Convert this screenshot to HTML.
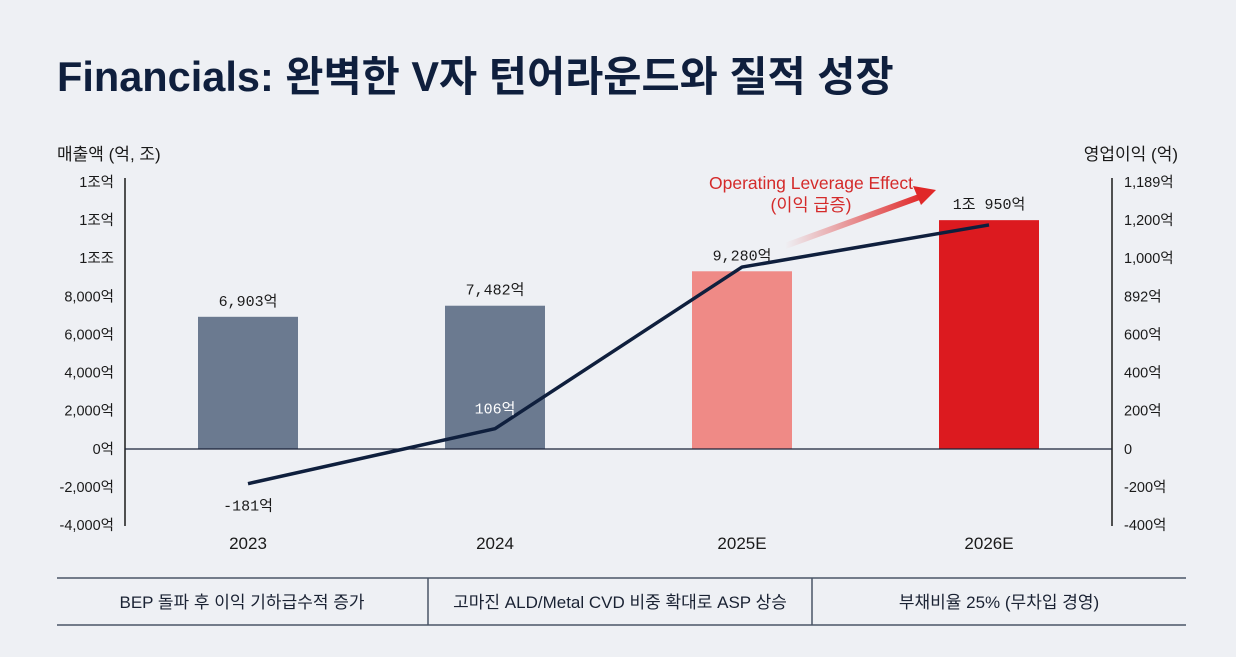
<!DOCTYPE html>
<html><head><meta charset="utf-8">
<style>
html,body{margin:0;padding:0;background:#eef0f4;}
body{width:1236px;height:657px;overflow:hidden;position:relative;font-family:"Liberation Sans","Noto Sans CJK KR",sans-serif;}
svg{position:absolute;left:0;top:0;}
.mono{font-family:"Liberation Mono","Noto Sans CJK KR",monospace;}
</style></head>
<body>
<svg width="1236" height="657">
<defs>
<linearGradient id="ag" x1="0" y1="0" x2="1" y2="0">
<stop offset="0" stop-color="#e03030" stop-opacity="0"/>
<stop offset="1" stop-color="#e02828"/>
</linearGradient>
</defs>
<text x="57" y="91" font-size="41.5" font-weight="bold" fill="#0f1f3d">Financials: 완벽한 V자 턴어라운드와 질적 성장</text>
<text x="57" y="160" font-size="17" fill="#1a1a1a">매출액 (억, 조)</text>
<text x="1178" y="160" font-size="17" fill="#1a1a1a" text-anchor="end">영업이익 (억)</text>
<g id="plot"></g>
<text x="811" y="189" font-size="17.5" fill="#d42a2a" text-anchor="middle">Operating Leverage Effect</text>
<text x="811" y="211" font-size="17.5" fill="#d42a2a" text-anchor="middle">(이익 급증)</text>
<path d="M785,246 L922,196" stroke="url(#ag)" stroke-width="6" fill="none"/>
<polygon points="936,190 913,186 921,205" fill="#e02828"/>
<line x1="57" y1="578" x2="1186" y2="578" stroke="#4a5566" stroke-width="1.5"/>
<line x1="57" y1="625" x2="1186" y2="625" stroke="#4a5566" stroke-width="1.5"/>
<line x1="428" y1="578" x2="428" y2="625" stroke="#4a5566" stroke-width="1.5"/>
<line x1="812" y1="578" x2="812" y2="625" stroke="#4a5566" stroke-width="1.5"/>
<text x="242" y="608" font-size="17" fill="#1a2233" text-anchor="middle">BEP 돌파 후 이익 기하급수적 증가</text>
<text x="620" y="608" font-size="17" fill="#1a2233" text-anchor="middle">고마진 ALD/Metal CVD 비중 확대로 ASP 상승</text>
<text x="999" y="608" font-size="17" fill="#1a2233" text-anchor="middle">부채비율 25% (무차입 경영)</text>
</svg>
<script>
const categories=["2023","2024","2025E","2026E"];
const revenue=[6903,7482,9280,11950];
const revenueLabels=["6,903억","7,482억","9,280억","1조 950억"];
const opProfit=[-181,106,950,1170];
const opLabels=["-181억","106억","",""];
const leftTicks=["1조억","1조억","1조조","8,000억","6,000억","4,000억","2,000억","0억","-2,000억","-4,000억"];
const rightTicks=["1,189억","1,200억","1,000억","892억","600억","400억","200억","0","-200억","-400억"];
const barColors=["#6b7a90","#6b7a90","#ef8a86","#dc1a1f"];

const NS="http://www.w3.org/2000/svg";
const g=document.getElementById('plot');
function mk(t,a,txt){const e=document.createElementNS(NS,t);for(const k in a)e.setAttribute(k,a[k]);if(txt!==undefined)e.textContent=txt;g.appendChild(e);return e;}
const y0=449, step=38.3;
const yL=v=>y0-v/2000*step;
const yR=v=>y0-v/200*step;
const xC=i=>248+i*247;
let e=mk('line',{x1:125,y1:178,x2:125,y2:526,stroke:'#1a1a1a','stroke-width':1.5});

e=mk('line',{x1:1112,y1:178,x2:1112,y2:526,stroke:'#1a1a1a','stroke-width':1.5});

leftTicks.forEach((t,i)=>{const y=182+i*(525-182)/9;
 const el=mk('text',{x:114,y:y+5,'font-size':14.5,fill:'#1a1a1a','text-anchor':'end'},t);
 });
rightTicks.forEach((t,i)=>{const y=182+i*(525-182)/9;
 const el=mk('text',{x:1124,y:y+5,'font-size':14.5,fill:'#1a1a1a'},t);
 });
revenue.forEach((v,i)=>{const y=yL(v);
 const r=mk('rect',{x:xC(i)-50,y:y,width:100,height:y0-y,fill:barColors[i]});
 
 const t=mk('text',{x:xC(i),y:y-11,'font-size':15,fill:'#1a1a1a','text-anchor':'middle',class:'mono'},revenueLabels[i]);
 
 const c=mk('text',{x:xC(i),y:549,'font-size':17,fill:'#1a1a1a','text-anchor':'middle'},categories[i]);
 
});
e=mk('line',{x1:125,y1:y0,x2:1112,y2:y0,stroke:'#1a2238','stroke-width':1.2});

const pts=opProfit.map((v,i)=>xC(i)+','+yR(v)).join(' ');
e=mk('polyline',{points:pts,fill:'none',stroke:'#0f1f3d','stroke-width':3.5,'stroke-linejoin':'round'});

opLabels.forEach((t,i)=>{if(!t)return;
 const above=i===1;
 const el=mk('text',{x:xC(i),y:above?yR(opProfit[i])-15:yR(opProfit[i])+27,'font-size':15,fill:above?'#ffffff':'#1a1a1a','text-anchor':'middle',class:'mono'},t);
 });
</script>
</body></html>
